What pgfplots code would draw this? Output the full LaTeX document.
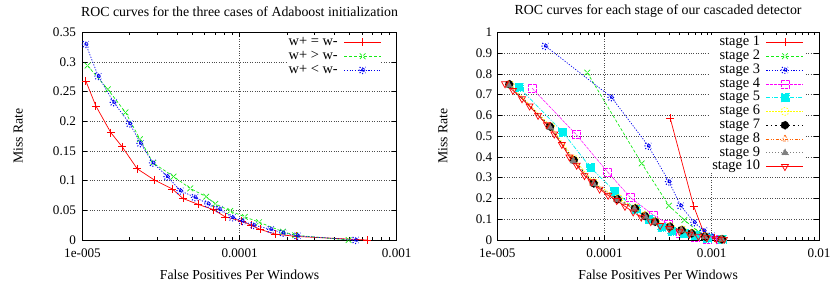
\documentclass[border=0pt]{standalone}
\usepackage{pgfplots}
\pgfplotsset{compat=1.18}
\usepackage{fontspec}
\setmainfont{Liberation Serif}
\definecolor{gpgreen}{RGB}{20,235,20}
\definecolor{gpblue}{RGB}{0,0,240}
\definecolor{gpmag}{RGB}{255,0,255}
\definecolor{gpcyan}{RGB}{0,240,240}
\definecolor{gpyellow}{RGB}{255,255,0}
\definecolor{gporange}{RGB}{255,96,0}
\definecolor{gpgray}{RGB}{128,128,128}
\pgfdeclareplotmark{gpstar}{%
  \pgfpathmoveto{\pgfqpoint{-\pgfplotmarksize}{0pt}}\pgfpathlineto{\pgfqpoint{\pgfplotmarksize}{0pt}}%
  \pgfpathmoveto{\pgfqpoint{0pt}{-\pgfplotmarksize}}\pgfpathlineto{\pgfqpoint{0pt}{\pgfplotmarksize}}%
  \pgfpathmoveto{\pgfqpoint{-0.75\pgfplotmarksize}{-0.75\pgfplotmarksize}}\pgfpathlineto{\pgfqpoint{0.75\pgfplotmarksize}{0.75\pgfplotmarksize}}%
  \pgfpathmoveto{\pgfqpoint{-0.75\pgfplotmarksize}{0.75\pgfplotmarksize}}\pgfpathlineto{\pgfqpoint{0.75\pgfplotmarksize}{-0.75\pgfplotmarksize}}%
  \pgfusepathqstroke}
\pgfplotsset{
  every axis/.append style={
    scale only axis, height=207.7bp,
    axis line style={line width=0.8bp},
    major tick length=5bp, minor tick length=3bp,
    major grid style={dotted, black!70, line width=0.6bp},
    xlabel style={at={(axis description cs:0.5,0)}, anchor=center, yshift=-35bp, font=\fontsize{13.8}{15}\selectfont},
    ylabel style={font=\fontsize{13.8}{15}\selectfont},
    title style={at={(axis description cs:0.5,1)}, anchor=center, yshift=15bp, font=\fontsize{13.9}{15}\selectfont},
    tick label style={font=\fontsize{13.2}{15}\selectfont},
    xticklabel style={yshift=-5bp},
    legend style={draw=none, fill=white, cells={anchor=east}, legend plot pos=right,
      column sep=4bp, inner sep=0bp, font=\fontsize{14.5}{15}\selectfont,
      nodes={inner xsep=2bp, inner ysep=0.65bp, text height=9.5bp, text depth=3bp}},
  },
  every tick/.style={black, line width=0.6bp},
  every axis plot/.append style={line width=0.7bp, mark size=4bp},
  every mark/.append style={solid},
  legend image code/.code={\draw[mark repeat=2,mark phase=2,#1] plot coordinates {(0bp,0bp) (18.5bp,0bp) (37bp,0bp)};},
}
\begin{document}
\begin{tikzpicture}[x=1bp,y=1bp]
\useasboundingbox (0,0) rectangle (831,287);
\begin{axis}[at={(82.5bp,47bp)}, anchor=south west, width=314.2bp,
  xmode=log, grid=major,
  xlabel={False Positives Per Windows}, ylabel={Miss Rate},
  xmin=1e-5, xmax=1e-3, ymin=0, ymax=0.35,
  xtick={1e-5,1e-4,1e-3}, xticklabels={1e-005,0.0001,0.001},
  ytick={0,0.05,0.1,0.15,0.2,0.25,0.3,0.35},
  yticklabels={0,0.05,0.1,0.15,0.2,0.25,0.3,0.35},
  yticklabel style={xshift=-3bp},
  ylabel style={at={(axis description cs:-0.205,0.5)}, anchor=center},
  title={ROC curves for the three cases of Adaboost initialization},
  legend style={at={(axis description cs:1,1)}, anchor=north east, xshift=-15bp, yshift=-3bp},
]
\addplot[red, solid, mark=+] coordinates {
(1.05e-5,0.268) (1.216e-5,0.226) (1.514e-5,0.181) (1.79e-5,0.157) (2.23e-5,0.120)
(2.87e-5,0.101) (3.73e-5,0.086) (4.36e-5,0.070) (5.45e-5,0.060) (6.84e-5,0.051)
(8.1e-5,0.039) (1.03e-4,0.032) (1.18e-4,0.025) (1.35e-4,0.018) (1.68e-4,0.010)
(2.3e-4,0.006) (6.46e-4,0.0)};
\addlegendentry{w+ = w-}
\addplot[gpgreen, dash pattern=on 3bp off 2bp, mark=x] coordinates {
(1.076e-5,0.294) (1.449e-5,0.254) (1.88e-5,0.215) (2.32e-5,0.170) (2.81e-5,0.130)
(3.80e-5,0.107) (4.85e-5,0.087) (6.13e-5,0.073) (7.0e-5,0.061) (8.72e-5,0.049)
(1.08e-4,0.039) (1.33e-4,0.030) (1.89e-4,0.014) (2.26e-4,0.008) (4.94e-4,0.0)};
\addlegendentry{w+ > w-}
\addplot[gpblue, dash pattern=on 1.2bp off 1.5bp, mark=gpstar, mark options={line width=1bp}] coordinates {
(1.05e-5,0.330) (1.26e-5,0.276) (1.58e-5,0.232) (2.0e-5,0.196) (2.34e-5,0.163)
(2.81e-5,0.130) (3.47e-5,0.107) (4.2e-5,0.083) (5.2e-5,0.072) (6.31e-5,0.061)
(7.46e-5,0.052) (9.02e-5,0.038) (1.04e-4,0.032) (1.23e-4,0.025) (1.58e-4,0.018)
(1.89e-4,0.012) (2.34e-4,0.007) (5.48e-4,0.0)};
\addlegendentry{w+ < w-}
\end{axis}
\begin{axis}[at={(497.3bp,47bp)}, anchor=south west, width=321.7bp,
  xmode=log, grid=major,
  xlabel={False Positives Per Windows}, ylabel={Miss Rate},
  xmin=1e-5, xmax=1e-2, ymin=0, ymax=1,
  xtick={1e-5,1e-4,1e-3,1e-2}, xticklabels={1e-005,0.0001,0.001,0.01},
  ytick={0,0.1,0.2,0.3,0.4,0.5,0.6,0.7,0.8,0.9,1},
  yticklabels={0,0.1,0.2,0.3,0.4,0.5,0.6,0.7,0.8,0.9,1},
  yticklabel style={xshift=-1.5bp},
  ylabel style={at={(axis description cs:-0.169,0.5)}, anchor=center},
  title={ROC curves for each stage of our cascaded detector},
  legend style={at={(axis description cs:1,1)}, anchor=north east, xshift=-15bp, yshift=-3bp},
]
\addplot[red, solid, mark=+] coordinates {
(4.10e-4,0.586) (6.78e-4,0.163) (8.5e-4,0.030) (1.05e-3,0.010) (1.25e-3,0.003)};
\addlegendentry{stage 1}
\addplot[gpgreen, dash pattern=on 3bp off 2bp, mark=x] coordinates {
(6.9e-5,0.806) (2.22e-4,0.369) (3.99e-4,0.165) (5.55e-4,0.096) (7.5e-4,0.040)
(9.5e-4,0.015) (1.2e-3,0.004)};
\addlegendentry{stage 2}
\addplot[gpblue, dash pattern=on 1.2bp off 1.5bp, mark=gpstar, mark options={line width=1bp}] coordinates {
(2.81e-5,0.934) (1.16e-4,0.687) (2.56e-4,0.453) (3.99e-4,0.281) (5.13e-4,0.165)
(6.87e-4,0.085) (8.45e-4,0.045) (1.0e-3,0.020) (1.2e-3,0.005)};
\addlegendentry{stage 3}
\addplot[gpmag, dash pattern=on 3bp off 1bp, mark=square, line width=0.5bp] coordinates {
(2.12e-5,0.730) (5.46e-5,0.507) (1.07e-4,0.327) (1.74e-4,0.205) (2.85e-4,0.120)
(3.9e-4,0.078) (5.06e-4,0.032) (7e-4,0.015) (9e-4,0.006) (1.2e-3,0.002)};
\addlegendentry{stage 4}
\addplot[gpcyan, dash pattern=on 4bp off 1.5bp on 1bp off 1.5bp, mark=square*, mark options={fill=gpcyan}] coordinates {
(1.59e-5,0.735) (4.07e-5,0.520) (7.41e-5,0.348) (1.24e-4,0.236) (1.96e-4,0.148)
(2.6e-4,0.100) (3.41e-4,0.061) (4.23e-4,0.043) (5.5e-4,0.030) (7e-4,0.020)
(9e-4,0.010) (1.25e-3,0.004)};
\addlegendentry{stage 5}
\addplot[gpyellow, dash pattern=on 1.5bp off 1.5bp, mark=o] coordinates {
(1.32e-5,0.748) (3.15e-5,0.548) (5.2e-5,0.390) (8.0e-5,0.276) (1.35e-4,0.200)
(1.95e-4,0.155) (2.4e-4,0.120) (3.0e-4,0.090) (4.1e-4,0.066) (5.3e-4,0.050)
(6.5e-4,0.034) (8.7e-4,0.017) (1.25e-3,0.004)};
\addlegendentry{stage 6}
\addplot[black, dash pattern=on 1.5bp off 3bp, mark=*, mark options={fill=black}] coordinates {
(1.29e-5,0.750) (3.10e-5,0.546) (5.15e-5,0.385) (7.91e-5,0.273) (1.32e-4,0.196)
(1.92e-4,0.152) (2.38e-4,0.116) (2.95e-4,0.088) (4.07e-4,0.064) (5.23e-4,0.048)
(6.48e-4,0.032) (8.65e-4,0.016) (1.24e-3,0.004)};
\addlegendentry{stage 7}
\addplot[gporange, dash pattern=on 3bp off 1.5bp on 1bp off 1.5bp on 1bp off 1.5bp, mark=triangle] coordinates {
(1.27e-5,0.748) (3.05e-5,0.545) (5.1e-5,0.384) (7.8e-5,0.272) (1.3e-4,0.195)
(1.9e-4,0.150) (2.35e-4,0.115) (2.9e-4,0.087) (4.0e-4,0.063) (5.2e-4,0.047)
(6.4e-4,0.031) (8.6e-4,0.015) (1.23e-3,0.004)};
\addlegendentry{stage 8}
\addplot[gpgray, dash pattern=on 1bp off 2bp, mark=triangle*, mark options={fill=gpgray}] coordinates {
(1.28e-5,0.745) (3.1e-5,0.542) (5.1e-5,0.380) (7.9e-5,0.270) (1.3e-4,0.193)
(1.9e-4,0.148) (2.4e-4,0.113) (2.95e-4,0.085) (4.05e-4,0.062) (5.2e-4,0.046)
(6.5e-4,0.030) (8.6e-4,0.015) (1.24e-3,0.003)};
\addlegendentry{stage 9}
\addplot[red, solid, mark=triangle, mark options={rotate=180}] coordinates {
(1.18e-5,0.752) (1.4e-5,0.720) (1.7e-5,0.680) (2.0e-5,0.645) (2.4e-5,0.600)
(2.9e-5,0.555) (3.4e-5,0.510) (4.0e-5,0.460) (4.7e-5,0.400) (5.5e-5,0.360)
(6.5e-5,0.310) (7.6e-5,0.280) (9e-5,0.245) (1.08e-4,0.215) (1.3e-4,0.190)
(1.55e-4,0.162) (1.85e-4,0.135) (2.2e-4,0.110) (2.7e-4,0.088) (3.3e-4,0.070)
(4e-4,0.055) (5e-4,0.040) (6.2e-4,0.028) (7.5e-4,0.018) (9e-4,0.011)
(1.1e-3,0.006) (1.3e-3,0.003)};
\addlegendentry{stage 10}
\end{axis}
\end{tikzpicture}
\end{document}
